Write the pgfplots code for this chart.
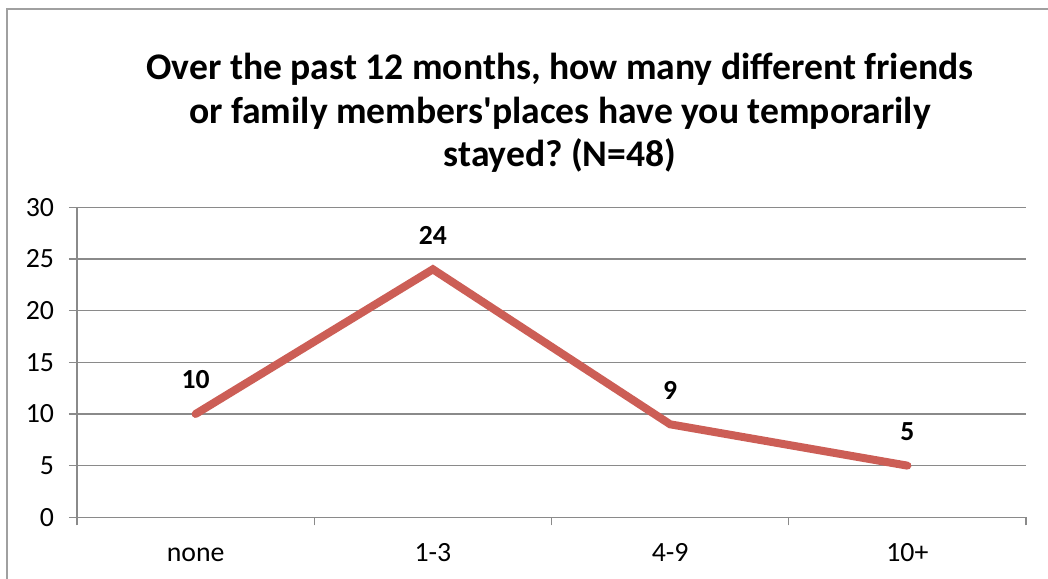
\documentclass[border=0pt]{standalone}
\usepackage{fontspec}
\setmainfont{Carlito}
\usepackage{pgfplots}
\pgfplotsset{compat=1.18}
\definecolor{linered}{RGB}{204,94,86}
\definecolor{gridgray}{RGB}{138,138,138}
\definecolor{framegray}{RGB}{160,160,160}
\frenchspacing
\begin{document}
\begin{tikzpicture}
\useasboundingbox (-38.5pt,-30.35pt) rectangle (485.5pt,258.65pt);
\draw[framegray, line width=0.75pt] (-35pt,-40pt) -- (-35pt,254.15pt) -- (495pt,254.15pt);
\begin{axis}[at={(0,0)}, anchor=south west, scale only axis,
  width=474.5pt, height=155pt,
  xmin=-0.5, xmax=3.5, ymin=0, ymax=30,
  ytick={0,5,...,30},
  xtick={-0.5,0.5,1.5,2.5,3.5}, xticklabels={},
  extra x ticks={0,1,2,3},
  extra x tick labels={none,1-3,4-9,10+},
  extra x tick style={major tick length=0pt, xticklabel style={anchor=base, yshift=-21.85pt}},
  axis x line*=bottom, axis y line*=left,
  axis line style={gridgray, line width=0.6pt, -},
  tick align=outside,
  major tick length=4pt,
  ymajorgrids, grid style={gridgray, line width=0.6pt},
  tick style={gridgray, line width=0.6pt},
  ticklabel style={font=\fontsize{13.9}{16}\selectfont, text=black},
  yticklabel style={anchor=east, xshift=-4pt},
  /pgf/number format/assume math mode=true,
  clip=false,
  nodes near coords,
  every node near coord/.append style={font=\bfseries\fontsize{13.8}{16}\selectfont, text=black, anchor=base, yshift=12.5pt},
]
\addplot[linered, line width=4pt, line cap=round, no markers] coordinates {(0,10) (1,24) (2,9) (3,5)};
\end{axis}
\begin{scope}[font=\bfseries\fontsize{18.8}{22}\selectfont]
\node[anchor=base] at (241.5pt,218.65pt) {Over the past 12 months, how many different friends};
\node[anchor=base] at (241.5pt,196.65pt) {or family members\textquotesingle places have you temporarily};
\node[anchor=base] at (241.5pt,175.15pt) {stayed? (N=48)};
\end{scope}
\end{tikzpicture}
\end{document}
